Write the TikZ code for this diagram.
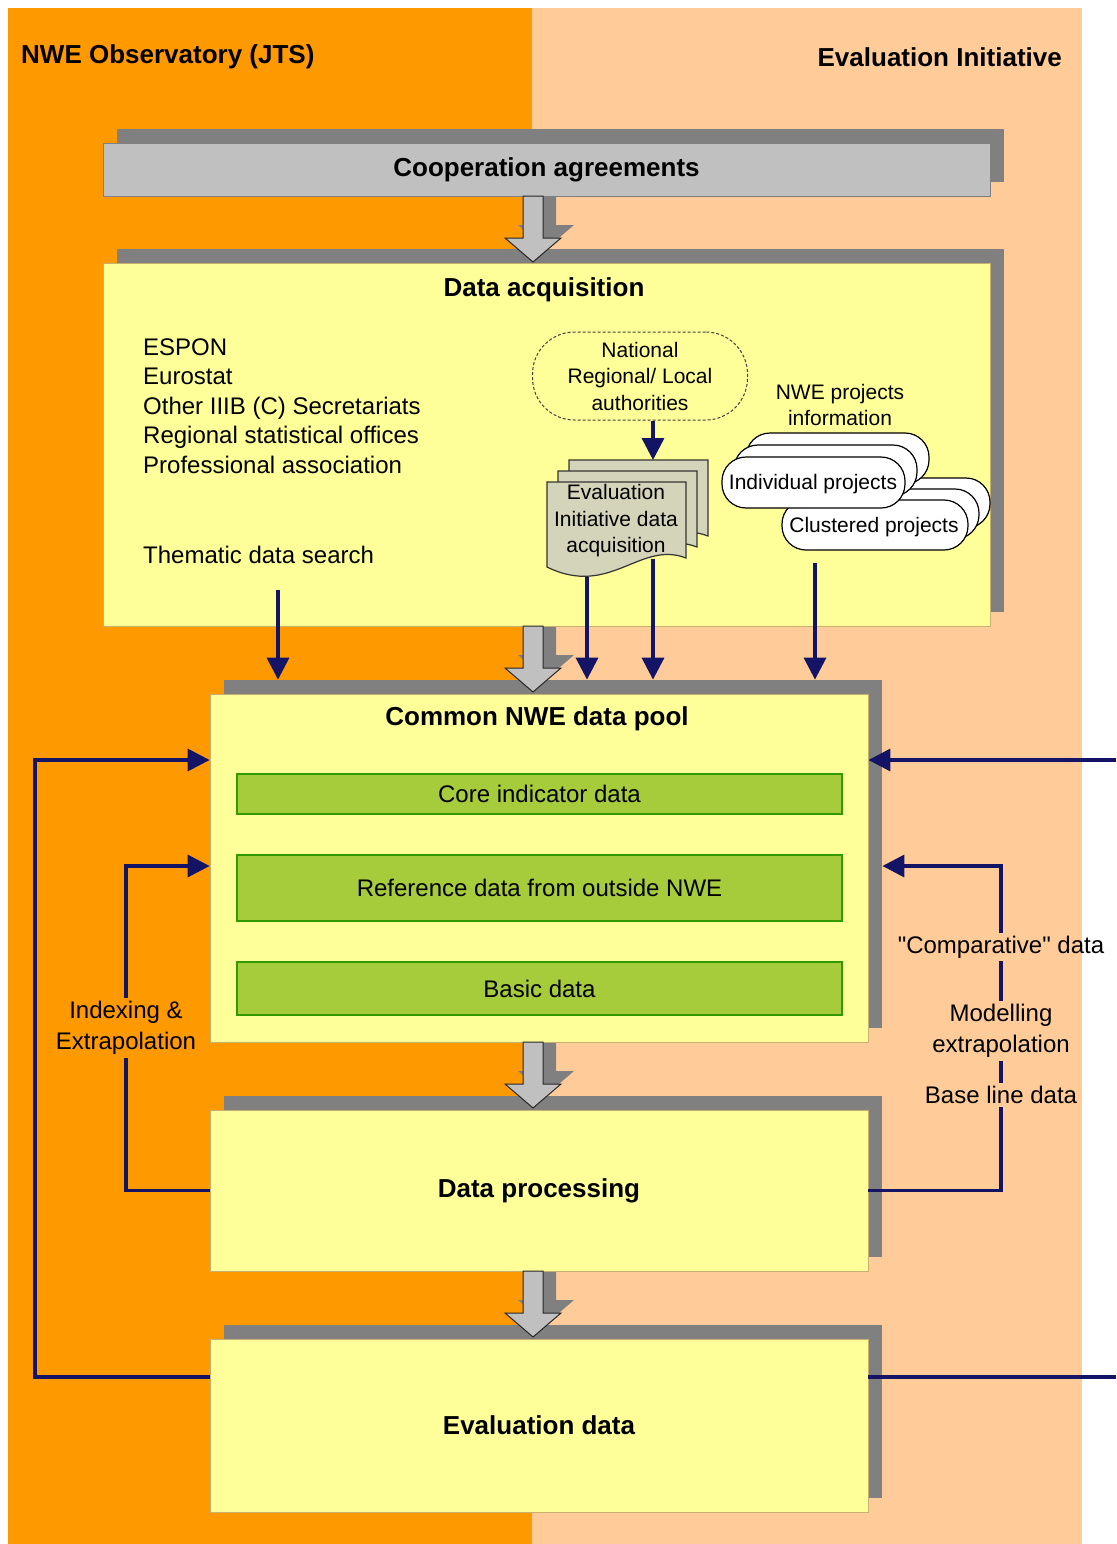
\documentclass[tikz,border=0pt]{standalone}
\usepackage{fontspec}
\setmainfont{Liberation Sans}[Ligatures=TeXOff]
\usepackage{xcolor}
\usetikzlibrary{shapes,arrows,positioning,calc,arrows.meta,shadows}

\definecolor{obsorange}{HTML}{FF9900}
\definecolor{evipeach}{HTML}{FFCC99}
\definecolor{boxyellow}{HTML}{FFFF99}
\definecolor{boxedge}{HTML}{C8B070}
\definecolor{barsilver}{HTML}{C0C0C0}
\definecolor{shadegray}{HTML}{808080}
\definecolor{poolgreen}{HTML}{A6CC3C}
\definecolor{pooledge}{HTML}{339900}
\definecolor{flownavy}{HTML}{141466}
\definecolor{docbeige}{HTML}{D4D4BA}

\begin{document}
\begin{tikzpicture}[
    x=1pt, y=-1pt,
    shadowed/.style={drop shadow={shadow xshift=14pt, shadow yshift=14pt, opacity=1, fill=shadegray}},
    stagebox/.style={rectangle, fill=boxyellow, draw=boxedge, line width=0.8pt, shadowed, inner sep=0pt, font=\fontsize{26}{30}\selectfont\bfseries},
    coopbox/.style={stagebox, fill=barsilver, draw=shadegray},
    databar/.style={rectangle, fill=poolgreen, draw=pooledge, line width=1.5pt, minimum width=605pt, font=\fontsize{24}{28}\selectfont},
    heading/.style={inner sep=0pt, font=\fontsize{26}{30}\selectfont\bfseries},
    srctext/.style={anchor=base west, inner sep=0pt, font=\fontsize{24}{28}\selectfont},
    smalltext/.style={align=center, inner sep=0pt, font=\fontsize{21}{26.5}\selectfont},
    fblabel/.style={align=center, inner sep=3pt, font=\fontsize{24}{31}\selectfont},
    blockarrow/.style={fill=barsilver, draw=black!85, line width=1pt},
    projbox/.style={fill=white, draw=black, line width=1.2pt, rounded corners=24pt},
    docshape/.style={fill=docbeige, draw=black!80, line width=1.2pt},
    flow/.style={draw=flownavy, line width=3.5pt, -{Triangle[length=22pt,width=22pt]}},
    plainflow/.style={draw=flownavy, line width=3.5pt}
]
    \useasboundingbox (0,0) rectangle (1116,1544);
    \fill[obsorange] (8,8) rectangle (532,1544);
    \fill[evipeach] (532,8) rectangle (1082,1544);
    \node[heading, anchor=west] (obstitle) at (21,57) {NWE Observatory (JTS)};
    \node[heading, anchor=east] (evititle) at (1062,57) {Evaluation Initiative};

    \foreach \y in {196,626,1042,1271}
        \fill[shadegray, xshift=13pt, yshift=13pt] (523,\y) -- (543,\y) -- (543,\y+42) -- (561,\y+42) -- (533,\y+66) -- (505,\y+42) -- (523,\y+42) -- cycle;

    \node[coopbox, minimum width=887pt, minimum height=53pt] (coop) at (546.5,169.5) {Cooperation agreements};
    \node[stagebox, minimum width=887pt, minimum height=363pt] (acq) at (546.5,444.5) {};
    \node[heading] (acqtitle) at (544,290) {Data acquisition};
    \node[stagebox, minimum width=658pt, minimum height=348pt] (pool) at (539,868) {};
    \node[heading] (pooltitle) at (537,719) {Common NWE data pool};
    \node[stagebox, minimum width=658pt, minimum height=161pt] (proc) at (539,1190.5) {Data processing};
    \node[stagebox, minimum width=658pt, minimum height=173pt] (evald) at (539,1425.5) {Evaluation data};

    \node[databar, minimum height=40pt] (core) at (539.5,794) {Core indicator data};
    \node[databar, minimum height=66pt] (refdata) at (539.5,888) {Reference data from outside NWE};
    \node[databar, minimum height=53pt] (basic) at (539.5,988.5) {Basic data};

    \foreach \i/\src in {0/ESPON, 1/Eurostat, 2/Other IIIB (C) Secretariats, 3/Regional statistical offices, 4/Professional association}
        \node[srctext] (src\i) at (143,355+29.5*\i) {\src};
    \node[srctext] (thm) at (143,563) {Thematic data search};

    \node[smalltext, draw=black!75, line width=1pt, dash pattern=on 3pt off 2pt, fill=boxyellow, rounded corners=42pt, minimum width=215pt, minimum height=88pt] (auth) at (640,376) {National\\Regional/ Local\\authorities};

    \foreach \d in {22,11,0}
        \draw[docshape, xshift=\d pt, yshift=\d pt] (547,482) -- (686,482) -- (686,558) .. controls (640,540) and (610,598) .. (547,567) -- cycle;
    \node[smalltext] (eida) at (616,521) {Evaluation\\Initiative data\\acquisition};

    \node[smalltext] (nweinfo) at (840,405) {NWE projects\\information};
    \foreach \d in {22,11,0}
        \draw[projbox, xshift=\d pt, yshift=\d pt] (782,500) rectangle (968,550);
    \node[smalltext] (clus) at (874,527) {Clustered projects};
    \foreach \d in {24,12,0}
        \draw[projbox, xshift=\d pt, yshift=\d pt] (722,457) rectangle (905,508);
    \node[smalltext] (indiv) at (813,484) {Individual projects};

    \foreach \y in {196,626,1042,1271}
        \draw[blockarrow] (523,\y) -- (543,\y) -- (543,\y+42) -- (561,\y+42) -- (533,\y+66) -- (505,\y+42) -- (523,\y+42) -- cycle;

    \coordinate (pooltop) at ([yshift=14pt]pool.north);
    \coordinate (docback) at (653,460);
    \coordinate (thmfoot) at (278,590);
    \coordinate (docfootA) at (587,577);
    \coordinate (docfootB) at (653,559);
    \coordinate (projfoot) at (815,563);
    \draw[flow] ([xshift=13pt]auth.south) -- (docback);
    \draw[flow] (thmfoot) -- (thmfoot |- pooltop);
    \draw[flow] (docfootA) -- (docfootA |- pooltop);
    \draw[flow] (docfootB) -- (docfootB |- pooltop);
    \draw[flow] (projfoot) -- (projfoot |- pooltop);

    \node[fblabel] (idxlbl) at (126,1028) {Indexing \&\\Extrapolation};
    \draw[plainflow] (proc.west) -| (idxlbl.south);
    \draw[flow] (idxlbl.north) |- ([yshift=2pt]pool.west);
    \draw[flow] ([yshift=48.5pt]evald.west) -| (35,760) -- ([yshift=108pt]pool.west);

    \node[fblabel] (complbl) at (1001,947) {"Comparative" data};
    \node[fblabel] (modlbl) at (1001,1031) {Modelling\\extrapolation};
    \node[fblabel] (baselbl) at (1001,1095) {Base line data};
    \draw[plainflow] (proc.east) -| (baselbl.south);
    \draw[plainflow] (baselbl.north) -- (modlbl.south);
    \draw[plainflow] (modlbl.north) -- (complbl.south);
    \draw[flow] (complbl.north) |- ([xshift=14pt,yshift=2pt]pool.east);
    \draw[plainflow] ([yshift=48.5pt]evald.east) -- (1116,1377);
    \draw[flow] (1116,760) -- ([yshift=108pt]pool.east);
\end{tikzpicture}
\end{document}
